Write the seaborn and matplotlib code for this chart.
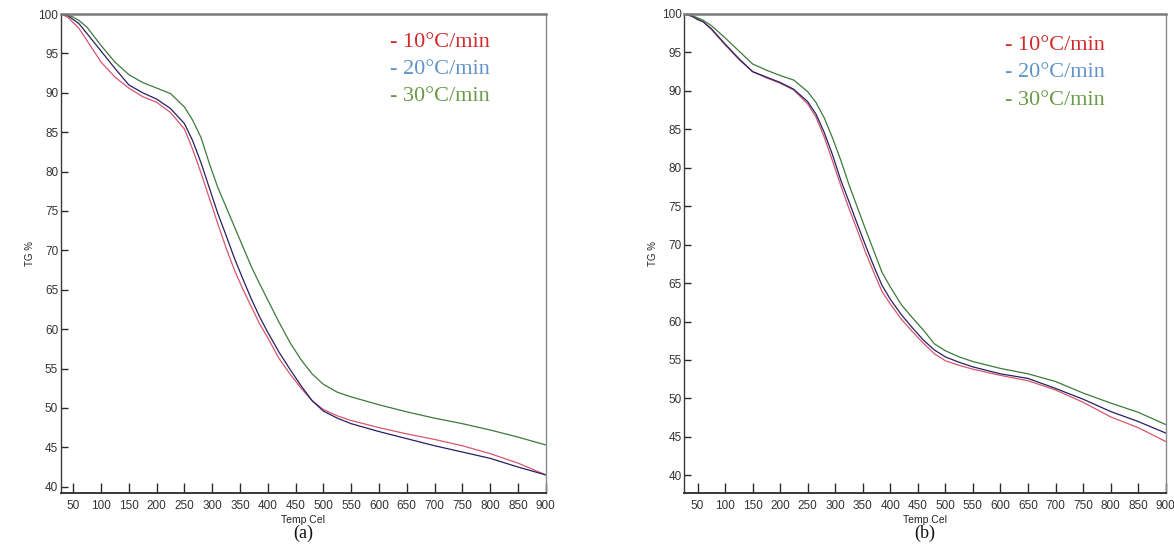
import numpy as np
import pandas as pd
import seaborn as sns
import matplotlib.pyplot as plt

# ---------------- data ----------------
temp = [28, 40, 50, 60, 75, 100, 125, 150, 175, 200, 225, 250, 265, 280, 295,
        310, 325, 340, 355, 370, 385, 400, 420, 440, 460, 480, 500, 525, 550,
        600, 650, 700, 750, 800, 850, 900]

rates = ["10°C/min", "20°C/min", "30°C/min"]

# panel (a)
a_10 = [100, 99.6, 98.9, 98.2, 96.6, 93.9, 92.0, 90.6, 89.5, 88.8, 87.5, 85.4,
        82.8, 79.8, 76.6, 73.4, 70.3, 67.5, 65.1, 62.9, 60.7, 58.9, 56.3, 54.3,
        52.5, 50.9, 49.8, 49.0, 48.4, 47.5, 46.7, 46.0, 45.2, 44.2, 43.0, 41.5]
a_20 = [100, 99.8, 99.3, 98.8, 97.5, 95.3, 93.1, 91.0, 90.0, 89.2, 88.0, 86.1,
        83.9, 81.1, 77.9, 74.7, 71.9, 69.0, 66.4, 63.9, 61.6, 59.6, 57.1, 54.9,
        52.8, 50.9, 49.6, 48.7, 48.0, 47.0, 46.1, 45.2, 44.4, 43.6, 42.5, 41.5]
a_30 = [100, 99.9, 99.6, 99.2, 98.3, 96.0, 93.9, 92.3, 91.3, 90.6, 89.9, 88.2,
        86.5, 84.3, 81.0, 78.0, 75.5, 73.0, 70.5, 68.0, 65.8, 63.7, 60.9, 58.3,
        56.1, 54.3, 53.0, 52.0, 51.4, 50.4, 49.5, 48.7, 48.0, 47.2, 46.3, 45.3]

# panel (b)
b_10 = [100, 99.7, 99.3, 99.0, 98.0, 96.0, 94.1, 92.5, 91.7, 91.0, 90.1, 88.3,
        86.6, 84.0, 80.9, 77.7, 74.7, 71.9, 69.0, 66.4, 63.9, 62.3, 60.3, 58.7,
        57.2, 55.8, 54.9, 54.3, 53.8, 53.0, 52.3, 51.1, 49.5, 47.6, 46.2, 44.4]
b_20 = [100, 99.7, 99.3, 99.0, 98.1, 96.1, 94.2, 92.5, 91.8, 91.1, 90.2, 88.6,
        87.0, 84.6, 81.7, 78.4, 75.6, 72.7, 69.9, 67.2, 64.7, 62.9, 60.9, 59.2,
        57.6, 56.3, 55.4, 54.7, 54.1, 53.2, 52.6, 51.3, 49.9, 48.3, 47.0, 45.5]
b_30 = [100, 99.8, 99.5, 99.2, 98.5, 96.9, 95.2, 93.5, 92.7, 92.0, 91.4, 89.9,
        88.5, 86.5, 83.9, 81.0, 77.8, 74.9, 72.0, 69.2, 66.4, 64.5, 62.2, 60.5,
        58.9, 57.1, 56.2, 55.4, 54.8, 53.9, 53.2, 52.2, 50.7, 49.4, 48.2, 46.6]

x_ticks = list(range(50, 901, 50))
y_ticks = list(range(40, 101, 5))
panel_labels = ["(a)", "(b)"]

# ---------------- styles ----------------
line_colors = {"10°C/min": "#d8566a", "20°C/min": "#262066", "30°C/min": "#3d7a3a"}
text_colors = ["#d02a2a", "#5f93c8", "#6a9a45"]

sns.set_style("white")
plt.rcParams["font.family"] = ["Liberation Sans", "DejaVu Sans"]

fig = plt.figure(figsize=(11.74, 5.47), dpi=100)
W, H = 1174, 547


def px_axes(l, t, r, b):
    return fig.add_axes([l / W, 1 - b / H, (r - l) / W, (b - t) / H])


axes = [px_axes(61, 14, 545.7, 493), px_axes(684.3, 14, 1165.7, 493)]
ylims = [(39.2, 100), (37.7, 100)]
xlims = [(28, 900), (26, 900)]
panels = [(a_10, a_20, a_30), (b_10, b_20, b_30)]
legend_pos = [(0.679, [0.941, 0.884, 0.827]), (0.666, [0.934, 0.877, 0.820])]

for i, ax in enumerate(axes):
    s10, s20, s30 = panels[i]
    df = pd.DataFrame({
        "Temp": temp * 3,
        "TG": s10 + s20 + s30,
        "rate": [rates[0]] * len(temp) + [rates[1]] * len(temp) + [rates[2]] * len(temp),
    })
    sns.lineplot(data=df, x="Temp", y="TG", hue="rate", palette=line_colors,
                 linewidth=0.9, legend=False, ax=ax, sort=False, estimator=None)
    ax.set_xlim(*xlims[i])
    ax.set_ylim(*ylims[i])
    ax.set_xticks(x_ticks)
    ax.set_yticks(y_ticks)
    ax.tick_params(axis="x", which="major", bottom=True, direction="in", length=7,
                   width=1, pad=5, labelsize=8.5, color="#2a2a2a", labelcolor="#333333")
    ax.tick_params(axis="y", which="major", left=True, direction="in", length=5,
                   width=1, pad=2, labelsize=8.5, color="#2a2a2a", labelcolor="#333333")
    ax.set_xlabel("Temp Cel", fontsize=7.5, labelpad=2, color="#222222")
    ax.set_ylabel("TG %", fontsize=7, labelpad=2.5, color="#222222")

    ax.spines["top"].set_color("#7a7a7a")
    ax.spines["top"].set_linewidth(1.8)
    ax.spines["left"].set_color("#3a3a3a")
    ax.spines["left"].set_linewidth(1.0)
    ax.spines["bottom"].set_color("#2a2a2a")
    ax.spines["bottom"].set_linewidth(1.3)
    ax.spines["right"].set_color("#8a8a8a")
    ax.spines["right"].set_linewidth(1.0)
    for sp in ax.spines.values():
        sp.set_visible(True)

    lx, lys = legend_pos[i]
    for r, c, yy in zip(rates, text_colors, lys):
        ax.text(lx, yy, "- " + r, transform=ax.transAxes, color=c,
                fontsize=16, family=["Liberation Serif", "DejaVu Serif"],
                ha="left", va="center")

    pos = ax.get_position()
    fig.text(pos.x0 + pos.width / 2, 1 - 533 / H, panel_labels[i],
             fontsize=13, family=["Liberation Serif", "DejaVu Serif"],
             ha="center", va="center", color="#111111")

fig.savefig("out.png", dpi=100)
